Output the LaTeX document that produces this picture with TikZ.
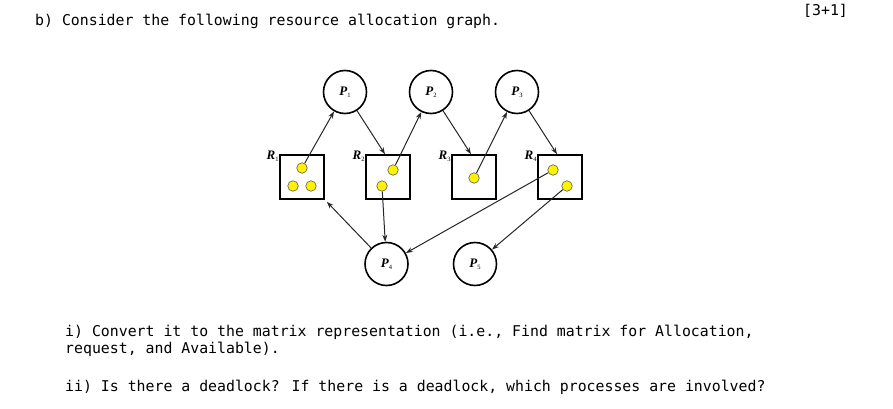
\documentclass[tikz,border=0pt]{standalone}
\usepackage{fontspec}
\usetikzlibrary{arrows.meta}
\newfontfamily\monof{DejaVu Sans Mono}
\newfontfamily\lblf{Liberation Serif}
\newcommand{\lblP}[2]{{\lblf\bfseries\itshape #1}\raisebox{-2pt}{\lblf\fontsize{6.5}{6.5}\selectfont #2}}
\begin{document}
\begin{tikzpicture}[x=1pt,y=-1pt,
  proc/.style={circle, draw, line width=1.6pt, minimum size=43pt, inner sep=0pt, font=\fontsize{13}{13}\selectfont},
  res/.style={draw, line width=1.6pt, minimum size=44pt, inner sep=0pt},
  tok/.style={circle, draw=black!65, fill=yellow, line width=0.6pt, minimum size=10.5pt, inner sep=0pt},
  arr/.style={-{Stealth[length=7pt,width=5pt]}, line width=1pt, draw=black!85},
  rlab/.style={anchor=east, inner sep=0.5pt, font=\fontsize{13}{13}\selectfont},
  txt/.style={anchor=base west, inner sep=0pt, font=\monof\fontsize{14.85}{17}\selectfont}]
\useasboundingbox (0,0) rectangle (893,409);

% processes
\node[proc] (P1) at (345,92) {\lblP{P}{1}};
\node[proc] (P2) at (431,92) {\lblP{P}{2}};
\node[proc] (P3) at (517,92) {\lblP{P}{3}};
\node[proc] (P4) at (386.5,264) {\lblP{P}{4}};
\node[proc] (P5) at (475,264) {\lblP{P}{5}};

% resources
\node[res] (R1) at (302,177) {};
\node[res] (R2) at (388,177) {};
\node[res] (R3) at (474,177) {};
\node[res] (R4) at (560,177) {};
\node[rlab] (L1) at ([yshift=-2pt]R1.north west) {\lblP{R}{1}};
\node[rlab] (L2) at ([yshift=-2pt]R2.north west) {\lblP{R}{2}};
\node[rlab] (L3) at ([yshift=-2pt]R3.north west) {\lblP{R}{3}};
\node[rlab] (L4) at ([yshift=-2pt]R4.north west) {\lblP{R}{4}};

% tokens
\node[tok] (d1a) at (302,168) {};
\node[tok] (d1b) at (293,186) {};
\node[tok] (d1c) at (311,186) {};
\node[tok] (d2a) at (393,170) {};
\node[tok] (d2b) at (382,186) {};
\node[tok] (d3) at (474,178) {};
\node[tok] (d4a) at (553,170) {};
\node[tok] (d4b) at (567,186) {};

% edges
\draw[arr] (d1a) -- (P1);
\draw[arr] (P1) -- ([xshift=-3pt]R2.north);
\draw[arr] (d2a) -- (P2);
\draw[arr] (P2) -- ([xshift=-3pt]R3.north);
\draw[arr] (d3) -- (P3);
\draw[arr] (P3) -- ([xshift=-3pt]R4.north);
\draw[arr] (P4) -- ([shift={(2pt,-2pt)}]R1.south east);
\draw[arr] (d2b) -- (P4);
\draw[arr] (d4a) -- (P4);
\draw[arr] (d4b) -- (P5);

% text
\node[txt] (t0) at (35,26) {b) Consider the following resource allocation graph.};
\node[txt] (t1) at (803,16) {[3+1]};
\node[txt] (t2) at (65,336) {i) Convert it to the matrix representation (i.e., Find matrix for Allocation,};
\node[txt] (t3) at (65,353) {request, and Available).};
\node[txt] (t4) at (65,391) {ii) Is there a deadlock? If there is a deadlock, which processes are involved?};
\end{tikzpicture}
\end{document}
